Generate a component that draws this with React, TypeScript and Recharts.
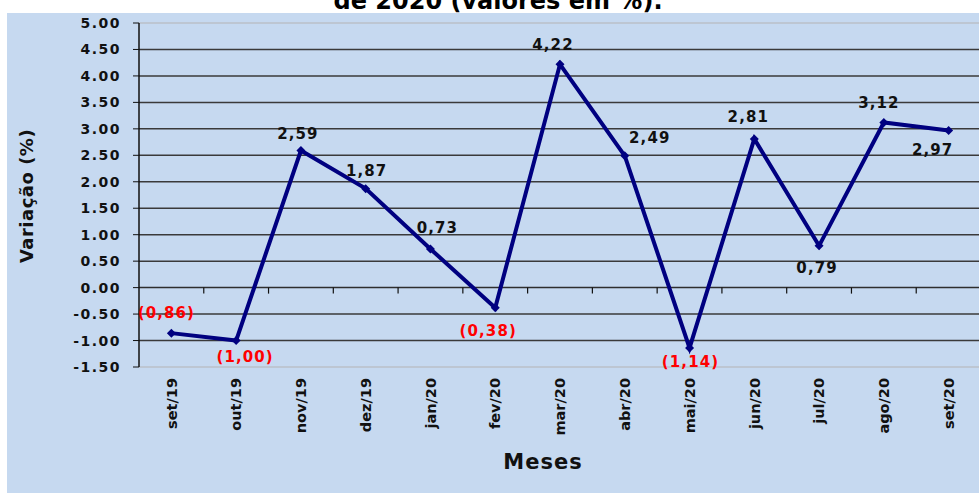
import React from 'react';
import { LineChart, Line, XAxis, YAxis, ReferenceLine } from 'recharts';

// variação mensal (%), set/19 a set/20
const months = ['set/19', 'out/19', 'nov/19', 'dez/19', 'jan/20', 'fev/20', 'mar/20', 'abr/20', 'mai/20', 'jun/20', 'jul/20', 'ago/20', 'set/20'];
const values = [-0.86, -1.0, 2.59, 1.87, 0.73, -0.38, 4.22, 2.49, -1.14, 2.81, 0.79, 3.12, 2.97];
const yTicks = [-1.5, -1.0, -0.5, 0, 0.5, 1.0, 1.5, 2.0, 2.5, 3.0, 3.5, 4.0, 4.5, 5.0];
const darkGrid = [-1.0, -0.5, 0.5, 1.0, 1.5, 2.0, 2.5, 3.0, 3.5, 4.0, 4.5];

// where each value label sits relative to its point
const labelOffsets: [number, number][] = [
  [-5, -21], [9, 16], [-3, -17], [1, -18], [7, -21], [-7, 23], [-7, -20],
  [25, -18], [1, 14], [-6, -22], [-2, 22], [-5, -20], [-16, 19],
];

const data = months.map((m, i) => ({ month: m, value: values[i] }));

const FONT = '"DejaVu Sans", sans-serif';
const NAVY = '#000080';
const PLOT_W = 842;
const HALF_BAND = PLOT_W / months.length / 2;

const fmt = (v: number) => {
  const s = Math.abs(v).toFixed(2).replace('.', ',');
  return v < 0 ? `(${s})` : s;
};

const Diamond = (props: any) => {
  const { cx, cy, index } = props;
  if (cx == null || cy == null) return null;
  const r = 4.5;
  return (
    <polygon
      key={`d-${index}`}
      points={`${cx},${cy - r} ${cx + r},${cy} ${cx},${cy + r} ${cx - r},${cy}`}
      fill={NAVY}
    />
  );
};

const ValueLabel = (props: any) => {
  const { x, y, index, value } = props;
  const [dx, dy] = labelOffsets[index] || [0, -18];
  return (
    <text
      key={`l-${index}`}
      x={x + dx}
      y={y + dy}
      dy="0.36em"
      textAnchor="middle"
      fontFamily={FONT}
      fontWeight="bold"
      fontSize={15}
      letterSpacing={1.1}
      fill={value < 0 ? '#ff0000' : '#111'}
    >
      {fmt(value)}
    </text>
  );
};

const MonthTick = (props: any) => {
  const { x, y, payload } = props;
  const ty = y + 11;
  return (
    <text
      x={x}
      y={ty}
      dy="0.36em"
      textAnchor="end"
      transform={`rotate(-90, ${x}, ${ty})`}
      fontFamily={FONT}
      fontWeight="bold"
      fontSize={14.5}
      fill="#111"
    >
      {payload.value}
    </text>
  );
};

// zero line with the category tick marks hanging under it
const ZeroLine = (props: any) => {
  const { x1, x2, y1 } = props;
  if (x1 == null) return null;
  const step = (x2 - x1) / months.length;
  return (
    <g>
      <line x1={x1} x2={x2} y1={y1} y2={y1} stroke="#2e2e2e" strokeWidth={1.5} />
      {months.map((_, i) => (
        <line key={i} x1={x1 + step * (i + 1)} x2={x1 + step * (i + 1)} y1={y1} y2={y1 + 6} stroke="#111" strokeWidth={1.2} />
      ))}
    </g>
  );
};

export default function App() {
  return (
    <div style={{ position: 'absolute', left: 0, top: 0, width: 979, height: 493, overflow: 'hidden', background: '#fff' }}>
      <div style={{ position: 'absolute', left: 7, top: 13, width: 972, height: 480, background: '#c6d9f0' }} />
      <LineChart
        width={990}
        height={493}
        data={data}
        margin={{ top: 23, right: 9, bottom: 0, left: 0 }}
        style={{ position: 'absolute', left: 0, top: 0 }}
      >
        <XAxis
          dataKey="month"
          interval={0}
          height={126}
          padding={{ left: HALF_BAND, right: HALF_BAND }}
          axisLine={false}
          tickLine={false}
          tickSize={0}
          tickMargin={0}
          tick={<MonthTick />}
        />
        <YAxis
          type="number"
          domain={[-1.5, 5]}
          ticks={yTicks}
          width={139}
          interval={0}
          tickFormatter={(v: number) => v.toFixed(2)}
          axisLine={{ stroke: '#111', strokeWidth: 1.5 }}
          tickLine={{ stroke: '#111' }}
          tickSize={6}
          tickMargin={12}
          tick={{ fontFamily: FONT, fontWeight: 'bold', fontSize: 14, fill: '#111', letterSpacing: 1.5 }}
        />
        <ReferenceLine y={5} stroke="#b4b4b4" strokeWidth={1.2} />
        <ReferenceLine y={-1.5} stroke="#b4b4b4" strokeWidth={1.2} />
        {darkGrid.map((v) => (
          <ReferenceLine key={v} y={v} stroke="#3a3a3a" strokeWidth={1.5} />
        ))}
        <ReferenceLine y={0} shape={<ZeroLine />} />
        <Line
          type="linear"
          dataKey="value"
          stroke={NAVY}
          strokeWidth={4}
          dot={<Diamond />}
          activeDot={false}
          label={<ValueLabel />}
          isAnimationActive={false}
        />
      </LineChart>
      <svg width={979} height={493} style={{ position: 'absolute', left: 0, top: 0, pointerEvents: 'none' }}>
        <text x={498} y={9} textAnchor="middle" fontFamily={FONT} fontWeight="bold" fontSize={24} fill="#000">
          de 2020 (valores em %).
        </text>
        <text x={543} y={469} textAnchor="middle" fontFamily={FONT} fontWeight="bold" fontSize={21} letterSpacing={1} fill="#111">
          Meses
        </text>
        <text
          x={27}
          y={196}
          dy="0.36em"
          textAnchor="middle"
          transform="rotate(-90, 27, 196)"
          fontFamily={FONT}
          fontWeight="bold"
          fontSize={18}
          letterSpacing={0.5}
          fill="#111"
        >
          Variação (%)
        </text>
      </svg>
    </div>
  );
}
